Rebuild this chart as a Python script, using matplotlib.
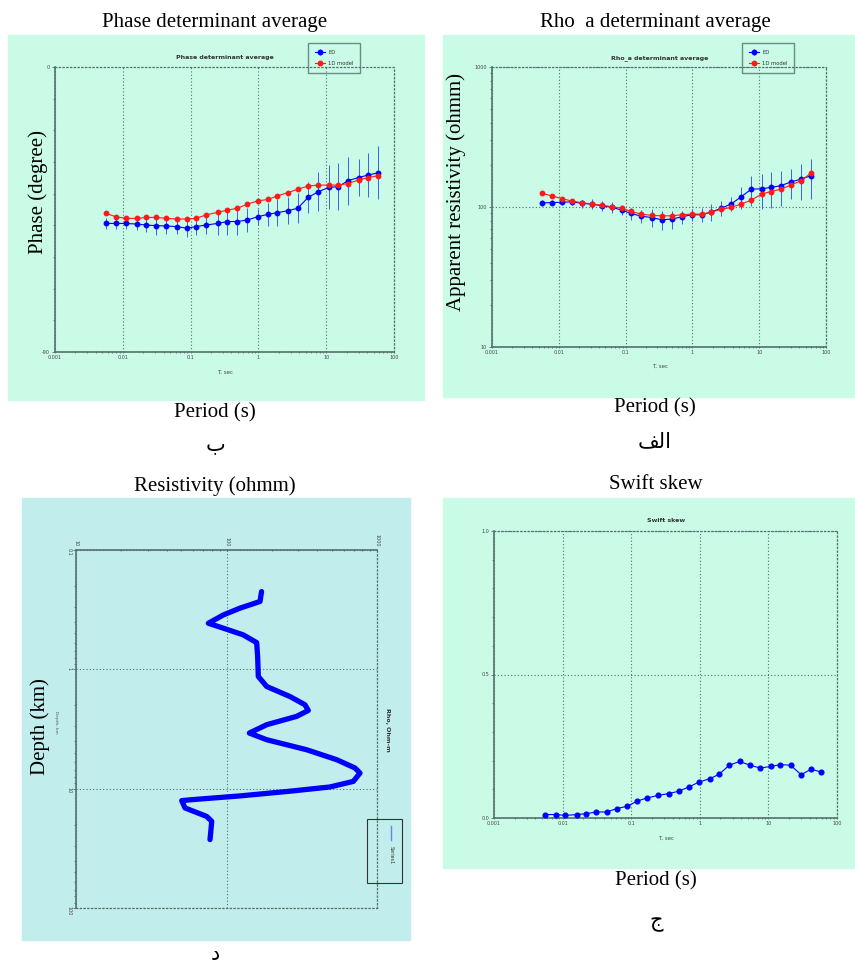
import matplotlib
matplotlib.use("Agg")
import matplotlib.pyplot as plt
from matplotlib.patches import Rectangle
from matplotlib.lines import Line2D
from matplotlib.ticker import LogLocator, MultipleLocator, FixedLocator, FixedFormatter, NullFormatter

# periods (s) shared by the three sounding curves
periods = [0.0056, 0.0079, 0.011, 0.016, 0.022, 0.031, 0.044, 0.062, 0.088, 0.12,
           0.17, 0.25, 0.35, 0.49, 0.69, 0.97, 1.4, 1.9, 2.7, 3.8,
           5.4, 7.6, 11, 15, 21, 30, 42, 59]

# phase (degree)
phase_obs = [-49.4, -49.4, -49.4, -49.6, -49.9, -50.1, -50.2, -50.4, -50.9, -50.4,
             -49.9, -49.4, -48.8, -48.8, -48.3, -47.3, -46.5, -46.0, -45.4, -44.6,
             -41.2, -39.4, -38.0, -37.8, -35.9, -34.9, -34.1, -33.4]
phase_err = [1.6, 1.6, 1.6, 1.9, 2.3, 2.9, 2.6, 2.3, 2.7, 2.7,
             2.9, 3.7, 4.2, 4.4, 3.7, 2.6, 3.7, 4.2, 4.2, 4.7,
             5.0, 6.1, 6.9, 7.4, 7.6, 5.8, 6.8, 8.4]
phase_model = [-46.2, -47.3, -47.8, -47.8, -47.5, -47.5, -47.8, -48.0, -48.0, -47.8,
               -46.7, -45.9, -45.2, -44.6, -43.3, -42.3, -41.8, -40.7, -39.7, -38.6,
               -37.6, -37.3, -37.3, -37.3, -36.8, -35.7, -34.9, -34.3]

# apparent resistivity (ohm m)
rho_obs = [107, 107.5, 108, 109, 106, 105, 102, 99.5, 95, 90,
           86, 84, 81, 82, 85, 88, 88, 92, 98, 105,
           118.5, 134, 135, 138, 142, 151, 158, 167]
rho_err = [4.7, 4.7, 4.8, 6, 7, 8.7, 8.5, 8.3, 8, 9,
           9.5, 12, 13, 12, 9, 9, 10, 13, 12, 12,
           21, 33, 38, 39, 40, 37, 45, 52]
rho_model = [125, 120, 115, 110, 107.5, 105, 103, 100.5, 98, 93,
             89, 87, 86.5, 86.5, 88, 89, 89, 92, 96, 99.5,
             105, 112, 124, 129, 134, 143.5, 154, 174]

# swift skew
skew = [0.012, 0.012, 0.009, 0.012, 0.015, 0.021, 0.021, 0.033, 0.041, 0.058,
        0.070, 0.079, 0.085, 0.093, 0.108, 0.125, 0.137, 0.152, 0.184, 0.197,
        0.184, 0.174, 0.180, 0.186, 0.184, 0.151, 0.170, 0.160]

# 1D model: resistivity (ohm m) vs depth (km)
model_rho = [171, 167, 123, 95.3, 75.7, 95.3, 129, 158.7, 161, 162.7,
             185, 264, 332, 349.6, 292, 185, 141.8, 185, 341, 540,
             714, 771, 696, 487, 264, 123, 57.2, 50.4, 53, 73.9,
             79.8, 77.7]
model_depth = [0.223, 0.270, 0.307, 0.350, 0.411, 0.452, 0.514, 0.597, 0.781, 1.148,
               1.393, 1.69, 1.98, 2.21, 2.48, 2.91, 3.42, 3.89, 4.72, 5.72,
               6.71, 7.39, 8.69, 9.68, 10.5, 11.5, 12.4, 12.6, 14.5, 17.1,
               18.8, 26.7]

period_ticks = [0.001, 0.01, 0.1, 1, 10, 100]
period_labels = ["0.001", "0.01", "0.1", "1", "10", "100"]

W, H = 855, 968
MINT = "#c9fbe7"
CYAN = "#c1eeec"
AXC = "#55706d"
BLUE = "#0000ff"
RED = "#ff1a1a"
serif = ["Liberation Serif", "DejaVu Sans"]


def box(x0, y0, x1, y1):
    return [x0 / W, 1 - y1 / H, (x1 - x0) / W, (y1 - y0) / H]


def fx(x):
    return x / W


def fy(y):
    return 1 - y / H


fig = plt.figure(figsize=(W / 100, H / 100), dpi=100)

# panel backgrounds (below the axes)
for x0, y0, x1, y1, c in [(8, 35, 424, 400, MINT), (443, 35, 855, 397, MINT),
                          (22, 498, 410, 940, CYAN), (443, 498, 855, 868, MINT)]:
    fig.patches.append(Rectangle((fx(x0), fy(y1)), (x1 - x0) / W, (y1 - y0) / H,
                                 transform=fig.transFigure, color=c, zorder=-5))


def style(ax, solid=("left", "bottom")):
    ax.set_facecolor("none")
    for s in ["left", "right", "top", "bottom"]:
        ax.spines[s].set_color(AXC)
        if s in solid:
            ax.spines[s].set_linewidth(1.2)
        else:
            ax.spines[s].set_linestyle((0, (1, 2)))
            ax.spines[s].set_linewidth(0.9)
    ax.tick_params(which="both", labelsize=3.5, colors=AXC, labelcolor="#444444",
                   length=2, width=0.6, pad=1.5)
    ax.tick_params(which="minor", length=1.5)
    ax.grid(True, which="major", linestyle=(0, (1, 2)), color=AXC, linewidth=0.8)


def period_axis(ax):
    ax.set_xscale("log")
    ax.set_xlim(0.001, 100)
    ax.xaxis.set_major_locator(FixedLocator(period_ticks))
    ax.xaxis.set_major_formatter(FixedFormatter(period_labels))
    ax.xaxis.set_minor_locator(LogLocator(base=10, subs=range(2, 10)))
    ax.xaxis.set_minor_formatter(NullFormatter())
    ax.tick_params(axis="x", which="both", direction="inout")


def legend(ax, handles, x0, y0):
    lg = ax.legend(handles=handles, loc="upper left", bbox_to_anchor=(fx(x0), fy(y0)),
                   bbox_transform=fig.transFigure, fontsize=3.8, frameon=True,
                   fancybox=False, edgecolor=AXC, facecolor="none",
                   handlelength=2.0, borderpad=1.3, labelspacing=1.1,
                   handletextpad=0.5, borderaxespad=0)
    lg.get_frame().set_linewidth(1.0)
    for t in lg.get_texts():
        t.set_color("#333333")


# ---- phase ----
ax1 = fig.add_axes(box(55, 67, 394, 352))
style(ax1)
period_axis(ax1)
eb1 = ax1.errorbar(periods, phase_obs, yerr=phase_err, color=BLUE, ecolor="#3d5cff",
                   elinewidth=0.7, lw=0.8, marker="o", ms=3.2, label="ED", zorder=3)
ln1, = ax1.plot(periods, phase_model, color=RED, lw=0.8, marker="o", ms=3.2,
                label="1D model", zorder=4)
ax1.set_ylim(-90, 0)
ax1.yaxis.set_major_locator(FixedLocator([-90, 0]))
ax1.yaxis.set_major_formatter(FixedFormatter(["-90", "0"]))
ax1.yaxis.set_minor_locator(MultipleLocator(10))
ax1.grid(False, axis="y")
legend(ax1, [eb1, ln1], 308, 43)
fig.text(fx(225), fy(58), "Phase determinant average", fontsize=4.5,
         fontweight="bold", color="#333333", ha="center", va="center")
fig.text(fx(225), fy(372), "T, sec", fontsize=4, color="#444444", ha="center", va="center")
fig.text(fx(215), fy(22), "Phase determinant average", family=serif, fontsize=15,
         ha="center", va="center")
fig.text(fx(38), fy(192), "Phase (degree)", family=serif, fontsize=15,
         rotation=90, ha="center", va="center")
fig.text(fx(215), fy(413), "Period (s)", family=serif, fontsize=15, ha="center", va="center")
fig.text(fx(215), fy(446), "\u0628", family=serif, fontsize=15, ha="center", va="center")

# ---- apparent resistivity ----
ax2 = fig.add_axes(box(492, 67, 826, 347))
style(ax2)
period_axis(ax2)
eb2 = ax2.errorbar(periods, rho_obs, yerr=rho_err, color=BLUE, ecolor="#3d5cff",
                   elinewidth=0.7, lw=0.8, marker="o", ms=3.2, label="ED", zorder=3)
ln2, = ax2.plot(periods, rho_model, color=RED, lw=0.8, marker="o", ms=3.2,
                label="1D model", zorder=4)
ax2.set_yscale("log")
ax2.set_ylim(10, 1000)
ax2.yaxis.set_major_locator(FixedLocator([10, 100, 1000]))
ax2.yaxis.set_major_formatter(FixedFormatter(["10", "100", "1000"]))
ax2.yaxis.set_minor_formatter(NullFormatter())
legend(ax2, [eb2, ln2], 742, 43)
fig.text(fx(660), fy(58), "Rho_a determinant average", fontsize=4.5,
         fontweight="bold", color="#333333", ha="center", va="center")
fig.text(fx(660), fy(366), "T, sec", fontsize=4, color="#444444", ha="center", va="center")
fig.text(fx(655), fy(22), "Rho  a determinant average", family=serif, fontsize=15,
         ha="center", va="center")
fig.text(fx(456), fy(192), "Apparent resistivity (ohmm)", family=serif, fontsize=15,
         rotation=90, ha="center", va="center")
fig.text(fx(655), fy(408), "Period (s)", family=serif, fontsize=15, ha="center", va="center")
fig.text(fx(655), fy(443), "\uFED2\uFEDF\uFE8D", family=serif, fontsize=15,
         ha="center", va="center")

# ---- resistivity vs depth (rotated chart) ----
ax3 = fig.add_axes(box(76, 550, 377, 908))
style(ax3, solid=("left", "top"))
ax3.plot(model_rho, model_depth, color=BLUE, lw=3.8, solid_joinstyle="round",
         solid_capstyle="round", zorder=3)
ax3.set_xscale("log")
ax3.set_yscale("log")
ax3.set_xlim(10, 1000)
ax3.set_ylim(100, 0.1)
ax3.xaxis.tick_top()
ax3.xaxis.set_major_locator(FixedLocator([10, 100, 1000]))
ax3.xaxis.set_major_formatter(FixedFormatter(["10", "100", "1000"]))
ax3.xaxis.set_minor_locator(LogLocator(base=10, subs=range(2, 10)))
ax3.xaxis.set_minor_formatter(NullFormatter())
ax3.yaxis.set_major_locator(FixedLocator([0.1, 1, 10, 100]))
ax3.yaxis.set_major_formatter(FixedFormatter(["0.1", "1", "10", "100"]))
ax3.yaxis.set_minor_locator(LogLocator(base=10, subs=range(2, 10)))
ax3.yaxis.set_minor_formatter(NullFormatter())
ax3.tick_params(axis="x", which="both", direction="inout")
for t in ax3.get_xticklabels() + ax3.get_yticklabels():
    t.set_rotation(270)
fig.patches.append(Rectangle((fx(367), fy(883)), 35 / W, 64 / H, transform=fig.transFigure,
                             fill=False, edgecolor="#333333", lw=0.8, zorder=5))
fig.lines.append(Line2D([fx(391), fx(391)], [fy(826), fy(840)], transform=fig.transFigure,
                        color="#6a7cff", lw=1.0))
fig.text(fx(391), fy(846), "Series1", fontsize=3.5, rotation=270, color="#333333",
         ha="center", va="top")
fig.text(fx(387), fy(730), "Rho, Ohm-m", fontsize=4.5, fontweight="bold", rotation=270,
         color="#333333", ha="center", va="center")
fig.text(fx(56), fy(722), "Depth, km", fontsize=3.2, rotation=270, color="#555555",
         ha="center", va="center")
fig.text(fx(215), fy(486), "Resistivity (ohmm)", family=serif, fontsize=15,
         ha="center", va="center")
fig.text(fx(40), fy(727), "Depth (km)", family=serif, fontsize=15, rotation=90,
         ha="center", va="center")
fig.text(fx(215), fy(955), "\u062F", family=serif, fontsize=15, ha="center", va="center")

# ---- swift skew ----
ax4 = fig.add_axes(box(494, 531, 837, 818))
style(ax4)
period_axis(ax4)
ax4.plot(periods, skew, color=BLUE, lw=0.8, marker="o", ms=3.4, zorder=3)
ax4.set_ylim(0, 1.0)
ax4.yaxis.set_major_locator(FixedLocator([0, 0.5, 1.0]))
ax4.yaxis.set_major_formatter(FixedFormatter(["0.0", "0.5", "1.0"]))
ax4.yaxis.set_minor_locator(MultipleLocator(0.1))
fig.text(fx(666), fy(521), "Swift skew", fontsize=4.5, fontweight="bold",
         color="#333333", ha="center", va="center")
fig.text(fx(666), fy(838), "T, sec", fontsize=4, color="#444444", ha="center", va="center")
fig.text(fx(656), fy(485), "Swift skew", family=serif, fontsize=15, ha="center", va="center")
fig.text(fx(656), fy(881), "Period (s)", family=serif, fontsize=15, ha="center", va="center")
fig.text(fx(656), fy(923), "\u062C", family=serif, fontsize=15, ha="center", va="center")

fig.savefig("out.png", dpi=100, facecolor="white")
